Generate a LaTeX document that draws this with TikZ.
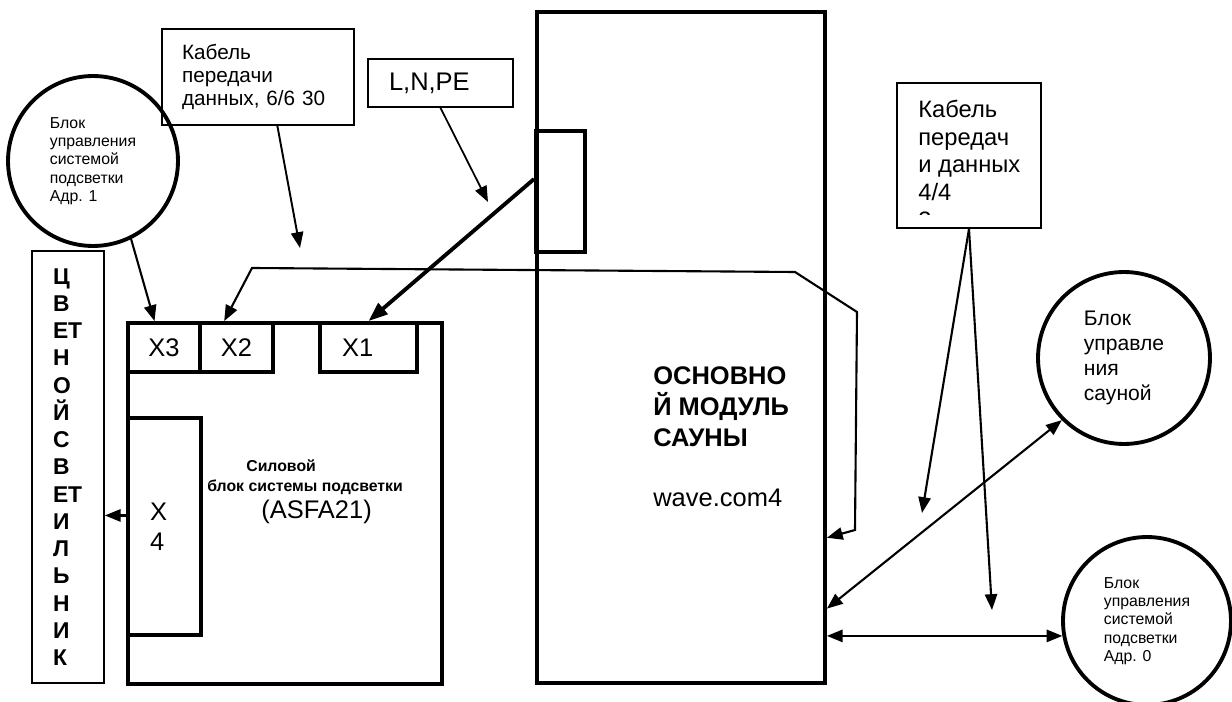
\documentclass[tikz,border=0pt]{standalone}
\usepackage{fontspec}
\setmainfont{Liberation Sans}
\usetikzlibrary{arrows.meta,positioning,calc}
\newcommand{\fsmall}{\fontsize{9}{10.4}\selectfont}
\newcommand{\fcable}{\fontsize{11.8}{13.2}\selectfont}
\newcommand{\fmid}{\fontsize{12}{14.2}\selectfont}
\newcommand{\fbig}{\fontsize{14.5}{17.8}\selectfont}

\begin{document}
\begin{tikzpicture}[
    x=0.02cm, y=-0.02cm,
    >={Triangle[length=9pt,width=7pt]},
    thick box/.style={draw,line width=2.2pt,inner sep=0pt},
    thin box/.style={draw,line width=1pt},
    ctrl/.style={circle,draw,line width=2.2pt,inner sep=0pt,align=left},
    label text/.style={anchor=base west,inner sep=0pt},
    wire/.style={line width=1.2pt}
  ]
    \useasboundingbox (0,0) rectangle (1232,702);

    % main sauna module
    \node[thick box, minimum width=5.76cm, minimum height=13.42cm] (main) at (681,347.5) {};
    \node[thick box, minimum width=0.98cm, minimum height=2.42cm] (conn) at (560.5,191.5) {};
    \node[anchor=north west, inner sep=0pt, align=left, font=\fbig] (maintxt) at (653,366)
      {\textbf{ОСНОВНО}\\ \textbf{Й МОДУЛЬ}\\ \textbf{САУНЫ}\\[16pt] wave.com4};

    % power block
    \node[thick box, minimum width=6.28cm, minimum height=7.22cm] (psu) at (285,503.5) {};
    \node[thick box, minimum width=1.44cm, minimum height=0.98cm, font=\fbig] (X3) at (164,347.5) {X3};
    \node[thick box, minimum width=1.46cm, minimum height=0.98cm, font=\fbig] (X2) at (236.5,347.5) {X2};
    \node[thick box, minimum width=1.94cm, minimum height=0.98cm, inner xsep=0.44cm, text width=1.06cm,
          align=left, font=\fbig] (X1) at (368.5,347.5) {X1};
    \node[thick box, minimum width=1.46cm, minimum height=4.34cm, inner xsep=0.44cm, text width=0.58cm,
          align=left, font=\fontsize{14.5}{17}\selectfont] (X4) at (164.5,526.5) {X\\4};
    \node[label text, font=\bfseries\fontsize{9}{11}\selectfont] (psu1) at (246,472) {Силовой};
    \node[label text, font=\bfseries\fontsize{9}{11}\selectfont] (psu2) at (207,492) {блок системы подсветки};
    \node[label text, font=\fontsize{14.5}{17}\selectfont] (psu3) at (261,519) {(ASFA21)};

    % lamp
    \node[thin box, minimum width=1.44cm, minimum height=8.64cm, inner xsep=0.42cm, text width=0.6cm,
          align=left, font=\bfseries\fontsize{13}{15.5}\selectfont] (lamp) at (68,467)
      {Ц\\В\\ЕТ\\Н\\О\\Й\\С\\В\\ЕТ\\И\\Л\\Ь\\Н\\И\\К};

    % control units
    \node[ctrl, minimum size=3.4cm, font=\fsmall] (ctrl1) at (93,161)
      {Блок\\управления\\системой\\подсветки\\Адр. 1};
    \node[ctrl, minimum size=3.44cm, font=\fmid] (ctrl2) at (1124,358)
      {Блок\\управле\\ния\\сауной};
    \node[ctrl, minimum size=3.36cm, font=\fsmall] (ctrl0) at (1147,621)
      {Блок\\управления\\системой\\подсветки\\Адр. 0};

    % cable labels
    \node[thin box, minimum width=3.84cm, minimum height=1.92cm, inner xsep=0.4cm, text width=3.04cm,
          align=left, font=\fcable] (cable1) at (258,77) {Кабель\\передачи\\данных, 6/6 30};
    \node[thin box, minimum width=2.9cm, minimum height=0.96cm, inner xsep=0.42cm, text width=2.06cm,
          align=left, font=\fbig] (lnpe) at (440.5,83) {L,N,PE};
    \node[thin box, minimum width=2.88cm, minimum height=2.9cm] (cable2) at (969,155.5) {};
    \begin{scope}
      \clip (897,83) rectangle (1041,215);
      \node[anchor=north west, inner sep=0pt, align=left, font=\fontsize{13.5}{15.7}\selectfont]
        (cable2txt) at (918,100) {Кабель\\передач\\и данных\\4/4\\3 м};
    \end{scope}

    % free ends and bends
    \coordinate (c1end) at (300,248);
    \coordinate (lnend) at (488,202);
    \coordinate (c2a) at (922,513);
    \coordinate (c2b) at (992,610);
    \coordinate (b1) at (252,268);
    \coordinate (b2) at (795,272);
    \coordinate (b3) at (857,312);
    \coordinate (b4) at (855,530);
    \coordinate (x4out) at ($(X4.north west)!.45!(X4.south west)$);

    % connectors
    \draw[->, line width=1.1pt] ($(cable1.south west)!.6!(cable1.south east)$) -- (c1end);
    \draw[->, line width=1pt] (lnpe.south) -- (lnend);
    \draw[-{Triangle[length=11pt,width=8pt]}, line width=2.2pt]
      ($(conn.north west)!.4!(conn.south west)$) -- (X1.north);
    \draw[wire, ->] (ctrl1.-64) -- ($(X3.north west)!.375!(X3.north east)$);
    \draw[wire, <->] ($(X2.north west)!.34!(X2.north east)$) -- (b1) -- (b2) -- (b3) -- (b4)
      -- ($(main.north east)!.782!(main.south east)$);
    \draw[wire, ->] (x4out) -- (x4out -| lamp.east);
    \draw[wire, <->] ($(main.north east)!.887!(main.south east)$) -- (ctrl2.-135);
    \draw[wire, <->] (ctrl0.190 -| main.east) -- (ctrl0.190);
    \draw[wire, ->] (cable2.south) -- (c2a);
    \draw[wire, ->] (cable2.south) -- (c2b);
\end{tikzpicture}
\end{document}
